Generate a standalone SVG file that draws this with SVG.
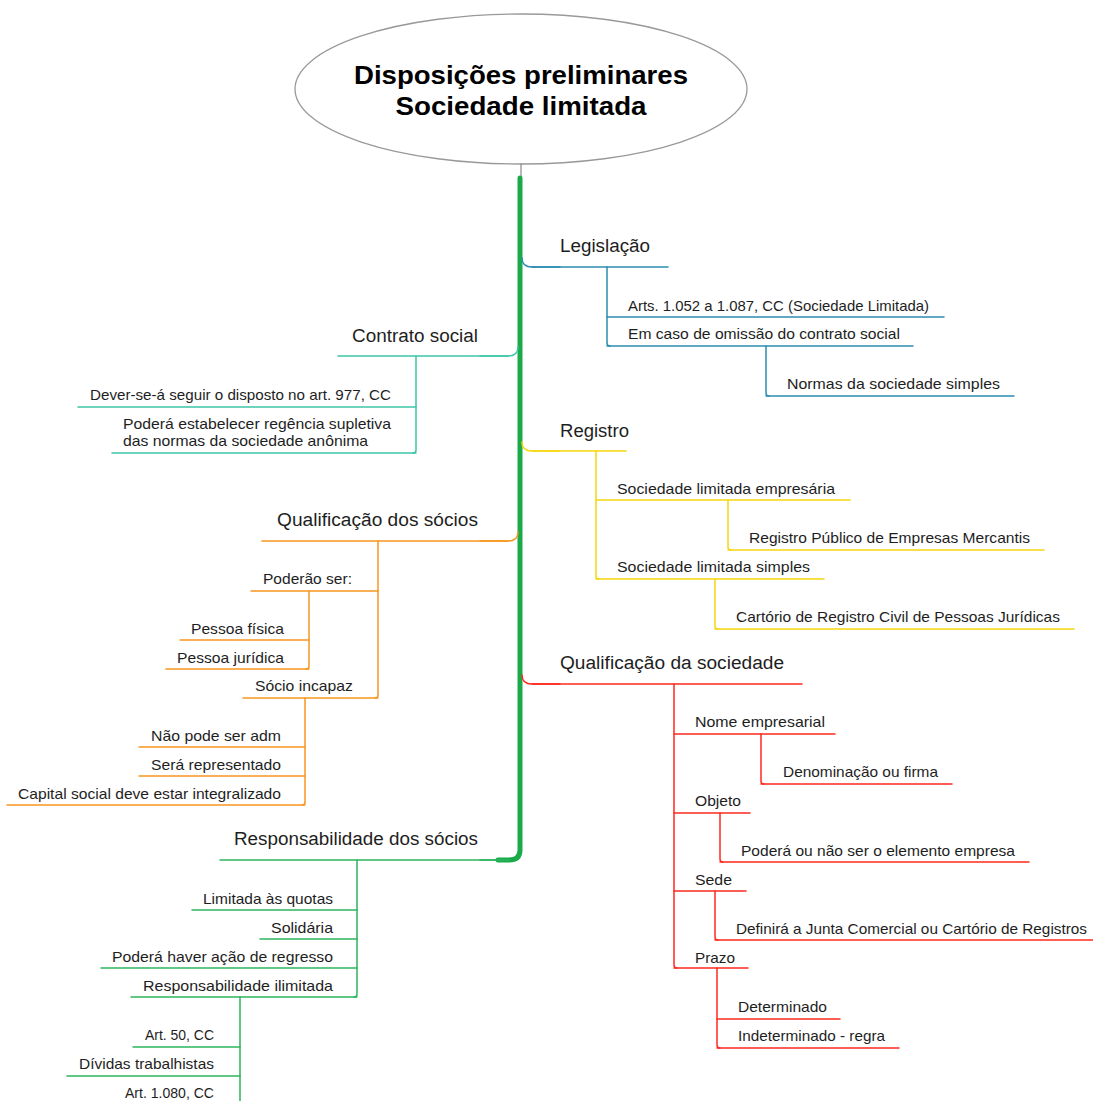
<svg xmlns="http://www.w3.org/2000/svg" width="1093" height="1101" viewBox="0 0 1093 1101">
  <style>
    text { font-family: "Liberation Sans", Arial, sans-serif; fill: #1e1e1e; }
    .title { font-size: 26px; font-weight: bold; fill: #000; text-anchor: middle; }
    .t1 { font-size: 18px; }
    .t2 { font-size: 15px; }
    path { fill: none; stroke-linecap: round; stroke-linejoin: round; }
    .teal { stroke: #2b8db0; stroke-width: 1.5; }
    .aqua { stroke: #3cc6a8; stroke-width: 1.5; }
    .yellow { stroke: #f6d60f; stroke-width: 1.5; }
    .orange { stroke: #f7961f; stroke-width: 1.5; }
    .red { stroke: #ff2a1f; stroke-width: 1.5; }
    .green { stroke: #2db55d; stroke-width: 1.5; }
    .root { fill: #fff; stroke: #999; stroke-width: 1.3; }
  </style>

  <!-- central topic -->
  <g id="root">
    <ellipse class="root" cx="521" cy="89" rx="226" ry="75"/>
    <text class="title" x="521" y="84" textLength="334" lengthAdjust="spacingAndGlyphs">Disposições preliminares</text>
    <text class="title" x="521" y="115" textLength="251" lengthAdjust="spacingAndGlyphs">Sociedade limitada</text>
  </g>

  <!-- trunk, branch stems and child spines -->
  <g id="connectors">
    <path d="M521 164 V179" stroke="#888" stroke-width="1.2"/>
    <path d="M520 178 V850 Q520 860 509 860 H498" stroke="#1aaa4a" stroke-width="5" stroke-linecap="butt"/>
    <!-- stems from trunk -->
    <path class="teal" d="M522 258 Q522 267 532 267 H560" stroke-width="2.5"/>
    <path class="aqua" d="M518 347 Q518 356 508 356 H480" stroke-width="2.5"/>
    <path class="yellow" d="M522 442 Q522 451 532 451 H560" stroke-width="2.5"/>
    <path class="orange" d="M518 532 Q518 541 508 541 H480" stroke-width="2.5"/>
    <path class="red" d="M522 675 Q522 684 532 684 H560" stroke-width="2.5"/>
    <path class="green" d="M509 860 H480" stroke-width="2.5"/>
    <!-- spines -->
    <path class="teal" d="M607 267 V343 Q607 346 610 346"/>
    <path class="teal" d="M766 346 V393 Q766 396 769 396"/>
    <path class="aqua" d="M416 356 V450 Q416 453 413 453"/>
    <path class="yellow" d="M596 451 V576 Q596 579 599 579"/>
    <path class="yellow" d="M728 500 V547 Q728 550 731 550"/>
    <path class="yellow" d="M715 579 V626 Q715 629 718 629"/>
    <path class="orange" d="M378 541 V695 Q378 698 375 698"/>
    <path class="orange" d="M309 591 V666 Q309 669 306 669"/>
    <path class="orange" d="M305 698 V802 Q305 805 302 805"/>
    <path class="red" d="M674 684 V965 Q674 968 677 968"/>
    <path class="red" d="M761 734 V781 Q761 784 764 784"/>
    <path class="red" d="M720 813 V859 Q720 862 723 862"/>
    <path class="red" d="M715 891 V937 Q715 940 718 940"/>
    <path class="red" d="M717 968 V1045 Q717 1048 720 1048"/>
    <path class="green" d="M357 860 V994 Q357 997 354 997"/>
    <path class="green" d="M240 997 V1103"/>
  </g>

  <!-- Legislação -->
  <g id="legislacao">
    <path class="teal" d="M532 267 H668"/>
    <text class="t1" x="560" y="252" textLength="90" lengthAdjust="spacingAndGlyphs">Legislação</text>
  </g>
  <g id="arts-1052">
    <path class="teal" d="M607 317 H944"/>
    <text class="t2" x="628" y="311" textLength="301" lengthAdjust="spacingAndGlyphs">Arts. 1.052 a 1.087, CC (Sociedade Limitada)</text>
  </g>
  <g id="omissao">
    <path class="teal" d="M607 346 H913"/>
    <text class="t2" x="628" y="339" textLength="272" lengthAdjust="spacingAndGlyphs">Em caso de omissão do contrato social</text>
  </g>
  <g id="normas-simples">
    <path class="teal" d="M766 396 H1014"/>
    <text class="t2" x="787" y="389" textLength="213" lengthAdjust="spacingAndGlyphs">Normas da sociedade simples</text>
  </g>

  <!-- Contrato social -->
  <g id="contrato-social">
    <path class="aqua" d="M508 356 H338"/>
    <text class="t1" x="352" y="342" textLength="126" lengthAdjust="spacingAndGlyphs">Contrato social</text>
  </g>
  <g id="art-977">
    <path class="aqua" d="M416 407 H78"/>
    <text class="t2" x="90" y="400" textLength="301" lengthAdjust="spacingAndGlyphs">Dever-se-á seguir o disposto no art. 977, CC</text>
  </g>
  <g id="regencia-supletiva">
    <path class="aqua" d="M416 453 H112"/>
    <text class="t2" x="123" y="429" textLength="268" lengthAdjust="spacingAndGlyphs">Poderá estabelecer regência supletiva</text>
    <text class="t2" x="123" y="446" textLength="245" lengthAdjust="spacingAndGlyphs">das normas da sociedade anônima</text>
  </g>

  <!-- Registro -->
  <g id="registro">
    <path class="yellow" d="M532 451 H626"/>
    <text class="t1" x="560" y="437" textLength="69" lengthAdjust="spacingAndGlyphs">Registro</text>
  </g>
  <g id="ltda-empresaria">
    <path class="yellow" d="M596 500 H850"/>
    <text class="t2" x="617" y="494" textLength="218" lengthAdjust="spacingAndGlyphs">Sociedade limitada empresária</text>
  </g>
  <g id="registro-publico">
    <path class="yellow" d="M728 550 H1044"/>
    <text class="t2" x="749" y="543" textLength="281" lengthAdjust="spacingAndGlyphs">Registro Público de Empresas Mercantis</text>
  </g>
  <g id="ltda-simples">
    <path class="yellow" d="M596 579 H824"/>
    <text class="t2" x="617" y="572" textLength="193" lengthAdjust="spacingAndGlyphs">Sociedade limitada simples</text>
  </g>
  <g id="cartorio-pj">
    <path class="yellow" d="M715 629 H1074"/>
    <text class="t2" x="736" y="622" textLength="324" lengthAdjust="spacingAndGlyphs">Cartório de Registro Civil de Pessoas Jurídicas</text>
  </g>

  <!-- Qualificação dos sócios -->
  <g id="qualificacao-socios">
    <path class="orange" d="M508 541 H262"/>
    <text class="t1" x="277" y="526" textLength="201" lengthAdjust="spacingAndGlyphs">Qualificação dos sócios</text>
  </g>
  <g id="poderao-ser">
    <path class="orange" d="M378 591 H251"/>
    <text class="t2" x="263" y="584" textLength="89" lengthAdjust="spacingAndGlyphs">Poderão ser:</text>
  </g>
  <g id="pessoa-fisica">
    <path class="orange" d="M309 640 H180"/>
    <text class="t2" x="191" y="634" textLength="93" lengthAdjust="spacingAndGlyphs">Pessoa física</text>
  </g>
  <g id="pessoa-juridica">
    <path class="orange" d="M309 669 H166"/>
    <text class="t2" x="177" y="663" textLength="107" lengthAdjust="spacingAndGlyphs">Pessoa jurídica</text>
  </g>
  <g id="socio-incapaz">
    <path class="orange" d="M378 698 H243"/>
    <text class="t2" x="255" y="691" textLength="98" lengthAdjust="spacingAndGlyphs">Sócio incapaz</text>
  </g>
  <g id="nao-pode-adm">
    <path class="orange" d="M305 747 H139"/>
    <text class="t2" x="151" y="741" textLength="130" lengthAdjust="spacingAndGlyphs">Não pode ser adm</text>
  </g>
  <g id="sera-representado">
    <path class="orange" d="M305 776 H139"/>
    <text class="t2" x="151" y="770" textLength="130" lengthAdjust="spacingAndGlyphs">Será representado</text>
  </g>
  <g id="capital-integralizado">
    <path class="orange" d="M305 805 H7"/>
    <text class="t2" x="18" y="799" textLength="263" lengthAdjust="spacingAndGlyphs">Capital social deve estar integralizado</text>
  </g>

  <!-- Qualificação da sociedade -->
  <g id="qualificacao-sociedade">
    <path class="red" d="M532 684 H802"/>
    <text class="t1" x="560" y="669" textLength="224" lengthAdjust="spacingAndGlyphs">Qualificação da sociedade</text>
  </g>
  <g id="nome-empresarial">
    <path class="red" d="M674 734 H835"/>
    <text class="t2" x="695" y="727" textLength="130" lengthAdjust="spacingAndGlyphs">Nome empresarial</text>
  </g>
  <g id="denominacao-firma">
    <path class="red" d="M761 784 H952"/>
    <text class="t2" x="783" y="777" textLength="155" lengthAdjust="spacingAndGlyphs">Denominação ou firma</text>
  </g>
  <g id="objeto">
    <path class="red" d="M674 813 H750"/>
    <text class="t2" x="695" y="806" textLength="46" lengthAdjust="spacingAndGlyphs">Objeto</text>
  </g>
  <g id="elemento-empresa">
    <path class="red" d="M720 862 H1029"/>
    <text class="t2" x="741" y="856" textLength="274" lengthAdjust="spacingAndGlyphs">Poderá ou não ser o elemento empresa</text>
  </g>
  <g id="sede">
    <path class="red" d="M674 891 H746"/>
    <text class="t2" x="695" y="885" textLength="37" lengthAdjust="spacingAndGlyphs">Sede</text>
  </g>
  <g id="junta-comercial">
    <path class="red" d="M715 940 H1093"/>
    <text class="t2" x="736" y="934" textLength="351" lengthAdjust="spacingAndGlyphs">Definirá a Junta Comercial ou Cartório de Registros</text>
  </g>
  <g id="prazo">
    <path class="red" d="M674 968 H748"/>
    <text class="t2" x="695" y="963" textLength="40" lengthAdjust="spacingAndGlyphs">Prazo</text>
  </g>
  <g id="determinado">
    <path class="red" d="M717 1019 H840"/>
    <text class="t2" x="738" y="1012" textLength="89" lengthAdjust="spacingAndGlyphs">Determinado</text>
  </g>
  <g id="indeterminado">
    <path class="red" d="M717 1048 H899"/>
    <text class="t2" x="738" y="1041" textLength="147" lengthAdjust="spacingAndGlyphs">Indeterminado - regra</text>
  </g>

  <!-- Responsabilidade dos sócios -->
  <g id="responsabilidade-socios">
    <path class="green" d="M500 860 H220"/>
    <text class="t1" x="234" y="845" textLength="244" lengthAdjust="spacingAndGlyphs">Responsabilidade dos sócios</text>
  </g>
  <g id="limitada-quotas">
    <path class="green" d="M357 910 H192"/>
    <text class="t2" x="203" y="904" textLength="130" lengthAdjust="spacingAndGlyphs">Limitada às quotas</text>
  </g>
  <g id="solidaria">
    <path class="green" d="M357 939 H260"/>
    <text class="t2" x="271" y="933" textLength="62" lengthAdjust="spacingAndGlyphs">Solidária</text>
  </g>
  <g id="acao-regresso">
    <path class="green" d="M357 968 H101"/>
    <text class="t2" x="112" y="962" textLength="221" lengthAdjust="spacingAndGlyphs">Poderá haver ação de regresso</text>
  </g>
  <g id="resp-ilimitada">
    <path class="green" d="M357 997 H131"/>
    <text class="t2" x="143" y="991" textLength="190" lengthAdjust="spacingAndGlyphs">Responsabilidade ilimitada</text>
  </g>
  <g id="art-50">
    <path class="green" d="M240 1047 H133"/>
    <text class="t2" x="145" y="1040" textLength="69" lengthAdjust="spacingAndGlyphs">Art. 50, CC</text>
  </g>
  <g id="dividas-trabalhistas">
    <path class="green" d="M240 1076 H67"/>
    <text class="t2" x="79" y="1069" textLength="135" lengthAdjust="spacingAndGlyphs">Dívidas trabalhistas</text>
  </g>
  <g id="art-1080">
    <path class="green" d="M240 1105 H113"/>
    <text class="t2" x="125" y="1098" textLength="89" lengthAdjust="spacingAndGlyphs">Art. 1.080, CC</text>
  </g>
</svg>
